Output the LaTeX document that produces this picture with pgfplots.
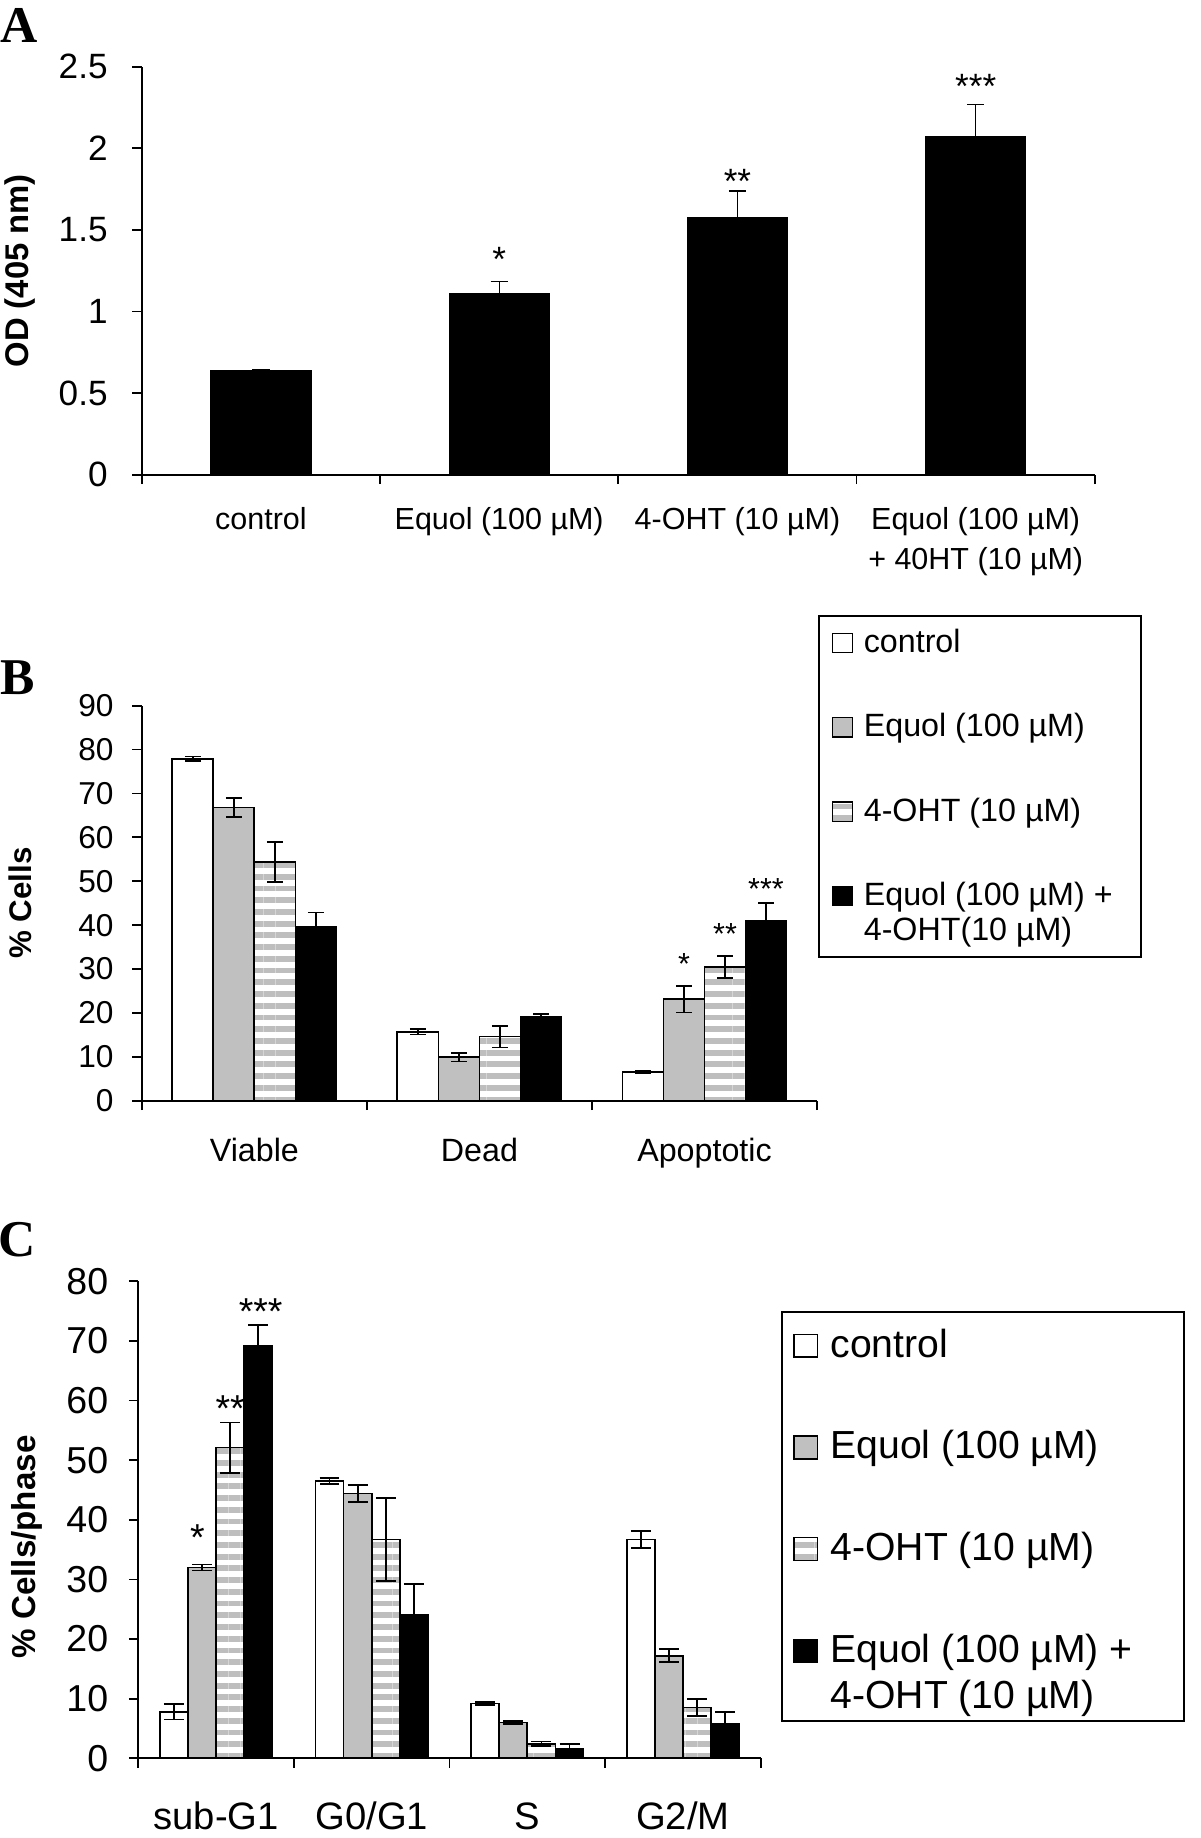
\documentclass[border=0pt]{standalone}
\usepackage{fontspec}
\setmainfont{Liberation Sans}
\newfontfamily\letterfont{Liberation Serif}
\usepackage{pgfplots}
\usepackage{pgfplotstable}
\pgfplotsset{compat=1.18}
\usetikzlibrary{patterns.meta}
\definecolor{bargray}{RGB}{192,192,192}
\definecolor{stripegray}{RGB}{190,190,190}

\pgfplotstableread{
x y e
0 0.634 0.010
1 1.111 0.072
2 1.574 0.164
3 2.072 0.196
}\dataA

\pgfplotstableread{
x c ce q qe h he m me
0 77.9 0.5 66.8 2.1 54.4 4.5 39.7 3.2
1 15.7 0.6 9.9 1.0 14.6 2.5 19.0 0.8
2 6.5 0.3 23.1 3.0 30.5 2.5 40.9 4.1
}\dataB

\pgfplotstableread{
x c ce q qe h he m me
0 7.8 1.3 32.0 0.5 52.1 4.2 69.1 3.5
1 46.5 0.5 44.4 1.4 36.7 7.0 24.0 5.2
2 9.2 0.3 6.0 0.3 2.4 0.4 1.5 0.9
3 36.7 1.4 17.2 1.1 8.5 1.45 5.7 2.1
}\dataC

\pgfplotsset{
  panel/.style 2 args={
    scale only axis,
    axis x line=bottom, axis y line=left,
    axis line style={-, line width=1.5pt, black},
    tick align=outside,
    major tick length=8pt,
    tick style={line width=1.5pt, black},
    enlarge x limits=false, enlarge y limits=false,
    ymin=0, clip=false,
    /pgf/number format/assume math mode=true,
    every axis y label/.style={at={(axis description cs:#1,#2)}, rotate=90, anchor=center},
    legend cell align=left,
  },
  eb/.style 2 args={
    /pgfplots/error bars/y dir=both,
    /pgfplots/error bars/y explicit,
    /pgfplots/error bars/error bar style={line width=#2, black},
    /pgfplots/error bars/error mark options={rotate=90, line width=#2, black, mark size=#1},
  },
  sCtrl/.style={draw=black, line width=1.5pt, fill=white},
  sEq/.style={draw=black, line width=1.5pt, fill=bargray},
  sOHT/.style={draw=black, line width=1.5pt, pattern={Lines[angle=0,distance=10pt,line width=5pt]}, pattern color=stripegray},
  sComb/.style={draw=black, line width=1.5pt, fill=black},
}

\begin{document}
\begin{tikzpicture}
\path[use as bounding box] (0,0) rectangle (1024pt,1568pt);

% Panel letters
\node[font=\letterfont\bfseries\fontsize{44}{44}\selectfont] at (16pt,1546pt) {A};
\node[font=\letterfont\bfseries\fontsize{44}{44}\selectfont] at (15pt,990pt) {B};
\node[font=\letterfont\bfseries\fontsize{44}{44}\selectfont] at (15pt,510pt) {C};

% ---------------- Panel A
\begin{axis}[
  ybar, bar width=85pt,
  panel={-0.128}{0.5},
  at={(121pt,1163pt)}, anchor=south west,
  width=813pt, height=348pt,
  xmin=-0.5, xmax=3.5, ymax=2.5,
  ytick={0,0.5,1,1.5,2,2.5},
  yticklabel style={font=\fontsize{30}{36}\selectfont, inner sep=0pt, xshift=-21pt},
  xtick={-0.5,0.5,1.5,2.5,3.5},
  xticklabels={{},{},{},{},{}},
  extra x ticks={0,1,2,3},
  extra x tick labels={\strut control, \strut Equol (100 µM), \strut 4-OHT (10 µM), {\strut Equol (100 µM)\\+ 40HT (10 µM)}},
  extra x tick style={major tick length=0pt, tick label style={font=\fontsize{26}{34}\selectfont, align=center, inner sep=0pt, yshift=-23pt}},
  ylabel={OD (405 nm)},
  ylabel style={font=\bfseries\fontsize{28}{30}\selectfont},
]
\addplot[sComb, eb={7.4pt}{1.2pt}] table[x=x, y=y, y error=e] {\dataA};
\node[font=\fontsize{30}{30}\selectfont, yshift=-6pt] at (axis cs:1,1.36) {*};
\node[font=\fontsize{30}{30}\selectfont, yshift=-6pt] at (axis cs:2,1.84) {**};
\node[font=\fontsize{30}{30}\selectfont, yshift=-6pt] at (axis cs:3,2.42) {***};
\end{axis}

% ---------------- Panel B
\begin{axis}[
  ybar=0pt, bar width=35pt,
  panel={-0.1806}{0.5},
  at={(121pt,629pt)}, anchor=south west,
  width=576pt, height=337pt,
  xmin=-0.5, xmax=2.5, ymax=90,
  ytick={0,10,...,90},
  yticklabel style={font=\fontsize{27}{32}\selectfont, inner sep=0pt, xshift=-16pt},
  xtick={-0.5,0.5,1.5,2.5},
  xticklabels={{},{},{},{}},
  extra x ticks={0,1,2},
  extra x tick labels={\strut Viable, \strut Dead, \strut Apoptotic},
  extra x tick style={major tick length=0pt, tick label style={font=\fontsize{27.5}{33}\selectfont, inner sep=0pt, yshift=-29pt}},
  ylabel={\% Cells},
  ylabel style={font=\bfseries\fontsize{26.7}{30}\selectfont},
  legend image code/.code={\draw[#1, line width=1.2pt] (0pt,0pt) rectangle (17pt,16.5pt);},
  legend style={at={(1.0017,1.2285)}, anchor=north west, draw=black, line width=1.5pt,
    inner xsep=11pt, inner ysep=8.6pt, row sep=4.2pt, column sep=9pt,
    nodes={inner sep=0pt, text depth=, text height=}, cells={anchor=base west},
    font=\fontsize{27.5}{33}\selectfont},
]
\addplot[sCtrl, eb={6.8pt}{1.5pt}] table[x=x, y=c, y error=ce] {\dataB};
\addlegendentry{\rule[-47.8pt]{0pt}{70.2pt}\makebox[225.5pt][l]{control}}
\addplot[sEq, eb={6.8pt}{1.5pt}] table[x=x, y=q, y error=qe] {\dataB};
\addlegendentry{\rule[-47.8pt]{0pt}{47.8pt}Equol (100 µM)}
\addplot[sOHT, eb={6.8pt}{1.5pt}] table[x=x, y=h, y error=he] {\dataB};
\addlegendentry{\rule[-47.8pt]{0pt}{47.8pt}4-OHT (10 µM)}
\addplot[sComb, eb={6.8pt}{1.5pt}] table[x=x, y=m, y error=me] {\dataB};
\addlegendentry{Equol (100 µM) +}
\addlegendimage{empty legend}
\addlegendentry{4-OHT(10 µM)}
\node[font=\fontsize{26}{26}\selectfont, yshift=-5pt] at ([xshift=-17.5pt]axis cs:2,32.5) {*};
\node[font=\fontsize{26}{26}\selectfont, yshift=-5pt] at ([xshift=17.5pt]axis cs:2,39.4) {**};
\node[font=\fontsize{26}{26}\selectfont, yshift=-5pt] at ([xshift=52.5pt]axis cs:2,49.6) {***};
\end{axis}

% ---------------- Panel C
\begin{axis}[
  ybar=0pt, bar width=24pt,
  panel={-0.179}{0.443},
  at={(118pt,68pt)}, anchor=south west,
  width=531pt, height=407pt,
  xmin=-0.5, xmax=3.5, ymax=80,
  ytick={0,10,...,80},
  yticklabel style={font=\fontsize{32}{38}\selectfont, inner sep=0pt, xshift=-17.5pt},
  xtick={-0.5,0.5,1.5,2.5,3.5},
  xticklabels={{},{},{},{},{}},
  extra x ticks={0,1,2,3},
  extra x tick labels={\strut sub-G1, \strut G0/G1, \strut S, \strut G2/M},
  extra x tick style={major tick length=0pt, tick label style={font=\fontsize{32.6}{39}\selectfont, inner sep=0pt, yshift=-33pt}},
  ylabel={\% Cells/phase},
  ylabel style={font=\bfseries\fontsize{28.3}{30}\selectfont},
  legend image code/.code={\draw[#1, line width=1.2pt] (0pt,0pt) rectangle (20pt,19.5pt);},
  legend style={at={(1.0330,0.9374)}, anchor=north west, draw=black, line width=1.5pt,
    inner xsep=9.5pt, inner ysep=3.4pt, row sep=8.5pt, column sep=10.5pt,
    nodes={inner sep=0pt, text depth=, text height=}, cells={anchor=base west},
    font=\fontsize{33.4}{40}\selectfont},
]
\addplot[sCtrl, eb={8.5pt}{1.5pt}] table[x=x, y=c, y error=ce] {\dataC};
\addlegendentry{\rule[-54.1pt]{0pt}{89.2pt}\makebox[292pt][l]{control}}
\addplot[sEq, eb={8.5pt}{1.5pt}] table[x=x, y=q, y error=qe] {\dataC};
\addlegendentry{\rule[-54.1pt]{0pt}{54.1pt}Equol (100 µM)}
\addplot[sOHT, eb={8.5pt}{1.5pt}] table[x=x, y=h, y error=he] {\dataC};
\addlegendentry{\rule[-54.1pt]{0pt}{54.1pt}4-OHT (10 µM)}
\addplot[sComb, eb={8.5pt}{1.5pt}] table[x=x, y=m, y error=me] {\dataC};
\addlegendentry{Equol (100 µM) +}
\addlegendimage{empty legend}
\addlegendentry{4-OHT (10 µM)}
\node[font=\fontsize{32}{32}\selectfont, yshift=-6pt] at ([xshift=-16pt]axis cs:0,38.2) {*};
\node[font=\fontsize{32}{32}\selectfont, yshift=-6pt] at ([xshift=12pt]axis cs:0,59.8) {**};
\node[font=\fontsize{32}{32}\selectfont, yshift=-6pt] at ([xshift=38pt]axis cs:0,76.0) {***};
\end{axis}
\end{tikzpicture}
\end{document}
